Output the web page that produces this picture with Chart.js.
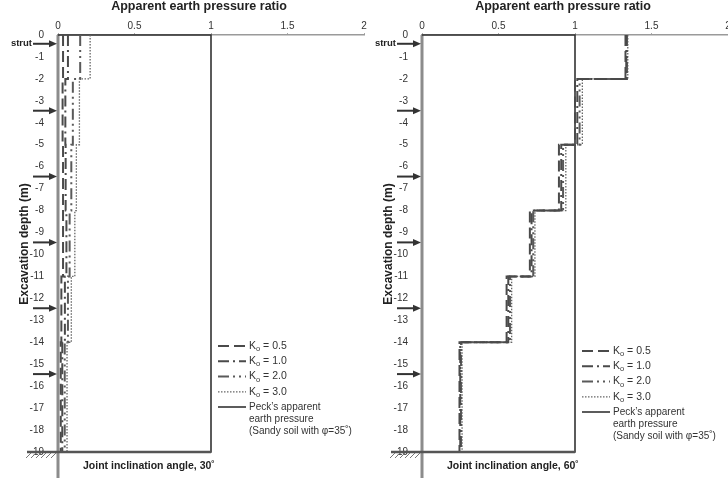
<!DOCTYPE html>
<html lang="en">
<head>
  <meta charset="UTF-8">
  <title>Apparent earth pressure ratio</title>
  <script src="https://cdn.jsdelivr.net/npm/chart.js"></script>
  <style>
    body {
      margin: 0;
      background: #fff;
      overflow: hidden;
    }

    #wrap {
      position: relative;
      width: 728px;
      height: 478px;
    }

    canvas {
      position: absolute;
      top: 0;
    }

    #c30 { left: 0; }
    #c60 { left: 364px; }
  </style>
</head>
<body>
  <div id="wrap">
    <canvas id="c30" width="372" height="478"></canvas>
    <canvas id="c60" width="364" height="478"></canvas>
  </div>

  <script>
// depth boundaries of the steps (m)
const depthBreaks = [0, -2, -5, -8, -11, -14, -19];
const xTickValues = [0, 0.5, 1, 1.5, 2];
const xTickLabels = ["0", "0.5", "1", "1.5", "2"];
const depthTickValues = [0, -1, -2, -3, -4, -5, -6, -7, -8, -9, -10, -11, -12, -13, -14, -15, -16, -17, -18, -19];
const strutDepths = [-0.4, -3.45, -6.45, -9.45, -12.45, -15.45];
const koLabels = ["0.5", "1.0", "2.0", "3.0"];
const peckRatio = 1;

// joint inclination 30 deg
const ko05_30 = [0.033, 0.030, 0.033, 0.033, 0.022, 0.018];
const ko10_30 = [0.065, 0.048, 0.050, 0.055, 0.045, 0.028];
const ko20_30 = [0.145, 0.097, 0.087, 0.076, 0.065, 0.044];
const ko30_30 = [0.210, 0.140, 0.120, 0.110, 0.087, 0.059];

// joint inclination 60 deg
const ko05_60 = [1.330, 1.000, 0.895, 0.705, 0.553, 0.245];
const ko10_60 = [1.335, 1.015, 0.910, 0.716, 0.564, 0.250];
const ko20_60 = [1.340, 1.030, 0.922, 0.727, 0.575, 0.255];
const ko30_60 = [1.345, 1.048, 0.940, 0.738, 0.586, 0.262];

const FONT = '"Liberation Sans", Arial, sans-serif';

const lineStyles = [
  { dash: [11, 5], width: 2, color: "#4a4a4a" },
  { dash: [11, 4, 2, 4], width: 2, color: "#4a4a4a" },
  { dash: [11, 4, 2, 4, 2, 4], width: 2, color: "#5a5a5a" },
  { dash: [1.5, 1.5], width: 1.3, color: "#666" }
];

function stepPoints(vals) {
  const pts = [];
  vals.forEach((v, i) => {
    pts.push({ x: v, y: depthBreaks[i] });
    pts.push({ x: v, y: depthBreaks[i + 1] });
  });
  return pts;
}

function drawArrow(ctx, x1, x2, y) {
  ctx.beginPath();
  ctx.moveTo(x1, y);
  ctx.lineTo(x2 - 6, y);
  ctx.stroke();
  ctx.beginPath();
  ctx.moveTo(x2, y);
  ctx.lineTo(x2 - 8, y - 3.5);
  ctx.lineTo(x2 - 8, y + 3.5);
  ctx.closePath();
  ctx.fill();
}

function noPad(s) {
  s.paddingLeft = 0;
  s.paddingRight = 0;
  s.paddingTop = 0;
  s.paddingBottom = 0;
}

function makeChart(id, series, angleText, legendTop, padRight) {
  const datasets = series.map((vals, i) => ({
    label: "Ko = " + koLabels[i],
    data: stepPoints(vals),
    showLine: true,
    pointRadius: 0,
    borderColor: lineStyles[i].color,
    borderWidth: lineStyles[i].width,
    borderDash: lineStyles[i].dash,
    clip: false
  }));
  datasets.push({
    label: "Peck",
    data: [
      { x: 0, y: depthBreaks[0] },
      { x: peckRatio, y: depthBreaks[0] },
      { x: peckRatio, y: depthBreaks[depthBreaks.length - 1] },
      { x: 0, y: depthBreaks[depthBreaks.length - 1] }
    ],
    showLine: true,
    pointRadius: 0,
    borderColor: "#333",
    borderWidth: 1.6,
    clip: false
  });

  const decor = {
    id: "decor",
    beforeDatasetsDraw(chart) {
      const ctx = chart.ctx;
      const xs = chart.scales.x;
      ctx.save();
      ctx.strokeStyle = "#8c8c8c";
      ctx.lineWidth = 3;
      ctx.beginPath();
      ctx.moveTo(xs.getPixelForValue(0), chart.chartArea.top);
      ctx.lineTo(xs.getPixelForValue(0), chart.height);
      ctx.stroke();
      ctx.restore();
    },
    afterDraw(chart) {
      const ctx = chart.ctx;
      const xs = chart.scales.x;
      const ys = chart.scales.y;
      const x0 = xs.getPixelForValue(0);
      const yBottom = ys.getPixelForValue(depthBreaks[depthBreaks.length - 1]);
      ctx.save();

      // ground line + hatching
      ctx.strokeStyle = "#555";
      ctx.lineWidth = 2.5;
      ctx.beginPath();
      ctx.moveTo(27, yBottom);
      ctx.lineTo(xs.getPixelForValue(peckRatio), yBottom);
      ctx.stroke();
      ctx.lineWidth = 1;
      ctx.strokeStyle = "#777";
      for (let hx = 26; hx < x0 - 4; hx += 5) {
        ctx.beginPath();
        ctx.moveTo(hx, yBottom + 6);
        ctx.lineTo(hx + 5, yBottom + 1);
        ctx.stroke();
      }

      // strut arrows
      ctx.strokeStyle = "#333";
      ctx.fillStyle = "#333";
      ctx.lineWidth = 2;
      strutDepths.forEach(d => drawArrow(ctx, 33, x0 - 1, ys.getPixelForValue(d)));
      ctx.font = "bold 9.5px " + FONT;
      ctx.textAlign = "right";
      ctx.textBaseline = "middle";
      ctx.fillStyle = "#222";
      ctx.fillText("strut", 32, ys.getPixelForValue(strutDepths[0]));

      // titles
      ctx.textAlign = "center";
      ctx.font = "bold 12.5px " + FONT;
      ctx.fillText("Apparent earth pressure ratio", 199, 7);
      ctx.save();
      ctx.translate(25, 244);
      ctx.rotate(-Math.PI / 2);
      ctx.font = "bold 12px " + FONT;
      ctx.fillText("Excavation depth (m)", 0, 0);
      ctx.restore();
      ctx.textAlign = "left";
      ctx.font = "bold 10.5px " + FONT;
      ctx.fillText(angleText, 83, 466);

      // legend
      const lx = 218;
      const tx = 249;
      ctx.fillStyle = "#333";
      lineStyles.forEach((st, i) => {
        const y = legendTop + i * 15.3;
        ctx.strokeStyle = st.color;
        ctx.lineWidth = st.width;
        ctx.setLineDash(st.dash);
        ctx.beginPath();
        ctx.moveTo(lx, y);
        ctx.lineTo(lx + 28, y);
        ctx.stroke();
        ctx.setLineDash([]);
        ctx.font = "10.5px " + FONT;
        ctx.fillText("K", tx, y);
        const kw = ctx.measureText("K").width;
        ctx.font = "7.5px " + FONT;
        ctx.fillText("o", tx + kw, y + 3);
        const ow = ctx.measureText("o").width;
        ctx.font = "10.5px " + FONT;
        ctx.fillText(" = " + koLabels[i], tx + kw + ow, y);
      });
      const py = legendTop + 61;
      ctx.strokeStyle = "#333";
      ctx.lineWidth = 1.6;
      ctx.beginPath();
      ctx.moveTo(lx, py);
      ctx.lineTo(lx + 28, py);
      ctx.stroke();
      ctx.font = "10px " + FONT;
      ctx.fillText("Peck\u2019s apparent", tx, py);
      ctx.fillText("earth pressure", tx, py + 12.3);
      ctx.fillText("(Sandy soil with \u03c6=35\u02da)", tx, py + 24.6);

      ctx.restore();
    }
  };

  return new Chart(document.getElementById(id), {
    type: "scatter",
    data: { datasets: datasets },
    options: {
      responsive: false,
      animation: false,
      layout: {
        autoPadding: false,
        padding: { top: 0, left: 0, right: padRight, bottom: 26 }
      },
      plugins: {
        legend: { display: false },
        tooltip: { enabled: false }
      },
      scales: {
        x: {
          type: "linear",
          position: "top",
          min: 0,
          max: 2,
          afterBuildTicks: s => { s.ticks = xTickValues.map(v => ({ value: v })); },
          afterFit: s => { s.height = 35; noPad(s); },
          ticks: {
            padding: 1,
            maxRotation: 0,
            color: "#333",
            font: { family: FONT, size: 10 },
            callback: (v, i) => xTickLabels[i]
          },
          grid: { drawOnChartArea: false, tickLength: 2, color: "#aaa" },
          border: { color: "#9a9a9a", width: 1.5 }
        },
        y: {
          type: "linear",
          min: -19,
          max: 0,
          afterBuildTicks: s => { s.ticks = depthTickValues.map(v => ({ value: v })); },
          afterFit: s => { s.width = 58; noPad(s); },
          ticks: {
            padding: 6,
            color: "#333",
            font: { family: FONT, size: 10 },
            callback: v => String(v)
          },
          grid: { display: false },
          border: { display: false }
        }
      }
    },
    plugins: [decor]
  });
}

makeChart("c30", [ko05_30, ko10_30, ko20_30, ko30_30], "Joint inclination angle, 30\u02da", 346, 8);
makeChart("c60", [ko05_60, ko10_60, ko20_60, ko30_60], "Joint inclination angle, 60\u02da", 351, 0);
  </script>
</body>
</html>
